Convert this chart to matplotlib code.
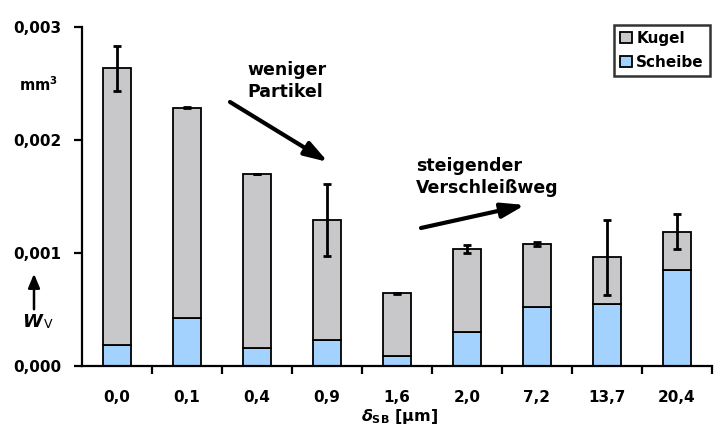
import matplotlib
matplotlib.use("Agg")
import matplotlib.pyplot as plt
from matplotlib.patches import FancyArrowPatch
import numpy as np

categories = ["0,0", "0,1", "0,4", "0,9", "1,6", "2,0", "7,2", "13,7", "20,4"]
total = [0.002634, 0.002286, 0.001699, 0.001292, 0.000643, 0.001033, 0.00108, 0.000962, 0.001189]
scheibe = [0.000186, 0.000428, 0.000162, 0.00023, 0.000091, 0.000298, 0.000525, 0.000546, 0.00085]
kugel = [t - s for t, s in zip(total, scheibe)]
errors = [0.0002, 0.000004, 0.000004, 0.00032, 0.000004, 0.000037, 0.000015, 0.00033, 0.000155]
yticks = [0.000, 0.001, 0.002, 0.003]
ytick_labels = ["0,000", "0,001", "0,002", "0,003"]

plt.rcParams['font.family'] = ['DejaVu Sans']
plt.rcParams['font.weight'] = 'bold'
plt.rcParams['mathtext.fontset'] = 'dejavusans'

W, H = 720, 426
fig = plt.figure(figsize=(W/100, H/100), dpi=100)
ax = fig.add_axes([82/W, 1-366/H, (712-82)/W, (366-27)/H])


def fx(px):
    return px / W


def fy(py):
    return 1 - py / H


x = np.arange(len(categories))
w = 0.41
gray = "#c8c7ca"
blue = "#a2d2fd"
ax.bar(x, scheibe, w, color=blue, edgecolor="black", linewidth=1.3, label="Scheibe", zorder=2)
ax.bar(x, kugel, w, bottom=scheibe, color=gray, edgecolor="black", linewidth=1.3, label="Kugel", zorder=2)
ax.errorbar(x, total, yerr=errors, fmt="none", ecolor="black", elinewidth=2, capsize=3, capthick=2, zorder=3)

ax.set_xlim(-0.5, len(categories) - 0.5)
ax.set_ylim(0, 0.003)
ax.spines['top'].set_visible(False)
ax.spines['right'].set_visible(False)
ax.spines['left'].set_linewidth(1.6)
ax.spines['bottom'].set_linewidth(1.6)

ax.set_yticks(yticks)
ax.set_yticklabels(ytick_labels, fontsize=11, fontweight='bold')
ax.tick_params(axis='y', length=6, width=1.6, pad=9)

ax.set_xticks(x)
ax.set_xticklabels(categories, fontsize=11, fontweight='bold')
ax.tick_params(axis='x', which='major', length=0, pad=17)
ax.set_xticks(np.arange(len(categories)) + 0.5, minor=True)
ax.tick_params(axis='x', which='minor', length=6, width=1.6)

# x label
fig.text(fx(400), fy(416), r"$\mathit{\delta}_{\mathrm{SB}}$ [µm]", ha='center', va='center',
         fontsize=11.5, fontweight='bold')

# y unit and label
fig.text(fx(38), fy(85), r"mm$^\mathbf{3}$", ha='center', va='center', fontsize=10.5, fontweight='bold')
fig.text(fx(33), fy(322), r"$\mathit{W}$", ha='center', va='center', fontsize=13)
fig.text(fx(48), fy(325), "V", ha='center', va='center', fontsize=9, fontweight='normal')
fig.patches.append(FancyArrowPatch((fx(34), fy(312)), (fx(34), fy(271)), transform=fig.transFigure,
                                   arrowstyle='-|>,head_length=0.6,head_width=0.25', mutation_scale=14,
                                   lw=1.8, color='black'))

# annotations
fig.text(fx(247), fy(81), "weniger\nPartikel", ha='left', va='center', fontsize=12.5,
         fontweight='bold', linespacing=1.3)
fig.patches.append(FancyArrowPatch((fx(230), fy(102)), (fx(328), fy(162)), transform=fig.transFigure,
                                   arrowstyle='-|>,head_length=1.0,head_width=0.32', mutation_scale=14,
                                   lw=3, color='black', shrinkA=0, shrinkB=0))
fig.text(fx(416), fy(177), "steigender\nVerschleißweg", ha='left', va='center', fontsize=12.5,
         fontweight='bold', linespacing=1.3)
fig.patches.append(FancyArrowPatch((fx(421), fy(228)), (fx(525), fy(205)), transform=fig.transFigure,
                                   arrowstyle='-|>,head_length=1.0,head_width=0.32', mutation_scale=14,
                                   lw=3, color='black', shrinkA=0, shrinkB=0))

# legend
handles, labels = ax.get_legend_handles_labels()
leg = fig.legend(handles[::-1], labels[::-1], loc='upper right', bbox_to_anchor=(fx(710), fy(25)),
                 bbox_transform=fig.transFigure, borderaxespad=0,
                 frameon=True, fancybox=False, edgecolor='black', fontsize=11,
                 handlelength=0.75, handleheight=0.75, handletextpad=0.3, borderpad=0.4, labelspacing=0.55)
leg.get_frame().set_linewidth(1.8)
for t in leg.get_texts():
    t.set_fontweight('bold')

fig.savefig("out.png", dpi=100)
